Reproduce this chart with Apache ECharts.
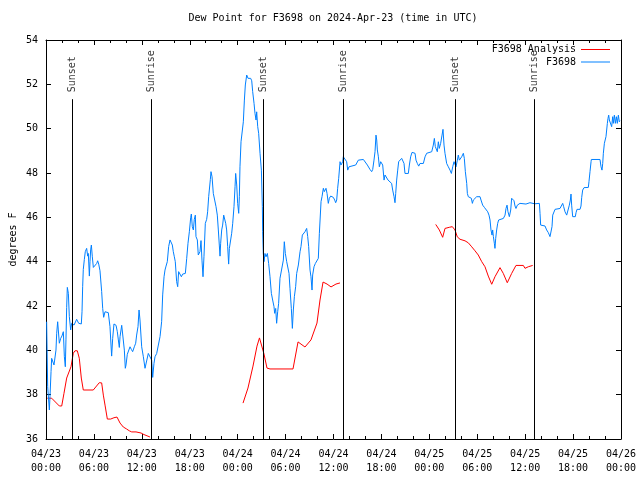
<!DOCTYPE html>
<html>
<head>
<meta charset="utf-8">
<script src="https://cdn.jsdelivr.net/npm/echarts@6/dist/echarts.min.js"></script>
<style>html,body{margin:0;padding:0;background:#fff}#c{width:640px;height:480px}</style>
</head>
<body>
<div id="c"></div>
<script>
// hours since 2024-04-23 00:00 UTC
const xTickLabels = ['04/23\n00:00','04/23\n06:00','04/23\n12:00','04/23\n18:00','04/24\n00:00','04/24\n06:00','04/24\n12:00','04/24\n18:00','04/25\n00:00','04/25\n06:00','04/25\n12:00','04/25\n18:00','04/26\n00:00'];
const sunTimes = [3.30, 13.17, 27.21, 37.23, 51.26, 61.15];
const sunLabels = ['Sunset','Sunrise','Sunset','Sunrise','Sunset','Sunrise'];
const sunLineTop = 51.33;
const sunLabelBase = 51.62;

const analysisSeg1 = [[0.16,37.84],[0.71,37.84],[1.67,37.49],[1.97,37.49],[2.25,38.06],[2.59,38.75],[2.79,38.81],[3.13,39.26],[3.42,39.87],[3.63,39.98],[3.92,39.98],[4.17,39.64],[4.42,38.75],[4.67,38.21],[5.92,38.21],[6.67,38.54],[6.97,38.53],[7.18,37.98],[7.39,37.53],[7.68,36.90],[8.10,36.90],[8.51,36.96],[8.89,36.99],[9.27,36.72],[9.68,36.54],[10.10,36.45],[10.43,36.37],[10.73,36.32],[11.27,36.32],[11.90,36.27],[12.27,36.20],[12.52,36.12],[13.02,36.09]];
const analysisSeg2 = [[24.67,37.62],[25.29,38.30],[25.92,39.29],[26.42,40.19],[26.73,40.56],[26.92,40.47],[27.30,39.83],[27.67,39.20],[28.05,39.16],[30.93,39.16],[31.56,40.38],[32.43,40.15],[33.18,40.47],[33.93,41.23],[34.31,42.27],[34.69,43.08],[35.19,42.99],[35.69,42.86],[36.31,42.99],[36.81,43.04]];
const analysisSeg3 = [[48.80,45.68],[49.25,45.43],[49.67,45.10],[49.96,45.50],[50.50,45.55],[50.88,45.58],[51.21,45.43],[51.50,45.12],[51.84,45.01],[52.47,44.94],[52.88,44.85],[53.31,44.67],[53.72,44.49],[54.13,44.30],[54.56,44.00],[54.97,43.77],[55.38,43.35],[55.81,42.98],[56.22,43.32],[56.85,43.73],[57.26,43.47],[57.76,43.05],[58.31,43.47],[58.85,43.83],[59.77,43.83],[59.98,43.70],[60.39,43.77],[60.94,43.83]];

const stationObs = [[0.08,41.29],[0.21,38.36],[0.42,37.31],[0.50,37.91],[0.63,39.04],[0.71,39.64],[0.84,39.56],[1.00,39.34],[1.13,39.26],[1.25,40.01],[1.34,40.77],[1.46,41.29],[1.54,40.92],[1.67,40.32],[1.84,40.54],[2.00,40.65],[2.17,40.84],[2.30,39.71],[2.42,39.26],[2.50,40.47],[2.59,41.94],[2.67,42.84],[2.80,42.57],[2.92,41.52],[3.09,40.92],[3.21,41.22],[3.34,41.29],[3.51,41.14],[3.67,41.22],[3.84,41.40],[3.97,41.49],[4.09,41.22],[4.26,41.19],[4.42,41.19],[4.51,41.74],[4.59,42.87],[4.67,43.65],[4.80,44.10],[4.92,44.45],[5.09,44.60],[5.22,44.25],[5.30,44.37],[5.43,43.35],[5.51,44.00],[5.59,44.53],[5.68,44.75],[5.80,44.22],[5.93,43.74],[6.18,43.74],[6.35,43.92],[6.47,44.04],[6.60,43.89],[6.76,43.59],[6.97,42.65],[7.10,41.89],[7.22,41.49],[7.39,41.74],[7.60,41.82],[7.80,41.70],[8.01,41.07],[8.14,40.24],[8.22,39.74],[8.35,40.54],[8.51,41.19],[8.77,41.13],[8.93,40.84],[9.06,40.47],[9.18,40.13],[9.27,40.62],[9.48,41.13],[9.68,41.10],[9.81,40.01],[9.93,39.19],[10.02,39.34],[10.18,39.82],[10.35,39.86],[10.52,40.16],[10.69,40.04],[10.85,39.94],[11.06,40.16],[11.23,40.32],[11.35,40.69],[11.52,41.07],[11.65,41.82],[11.77,41.37],[11.98,40.16],[12.19,39.71],[12.40,39.19],[12.61,39.23],[12.81,39.86],[13.02,39.83],[13.23,39.56],[13.36,38.78],[13.52,39.41],[13.65,39.71],[13.86,39.86],[14.07,40.24],[14.28,40.62],[14.48,41.29],[14.61,42.50],[14.78,43.32],[14.90,43.62],[15.03,43.80],[15.19,44.00],[15.36,44.68],[15.53,44.98],[15.69,45.02],[15.82,44.75],[15.94,44.45],[16.07,44.22],[16.19,44.00],[16.36,43.10],[16.49,42.87],[16.61,43.55],[16.78,43.47],[16.95,43.32],[17.11,43.44],[17.28,43.50],[17.45,43.47],[17.62,44.15],[17.78,44.83],[17.95,45.35],[18.12,46.00],[18.20,46.15],[18.32,45.58],[18.45,45.43],[18.57,45.91],[18.70,46.10],[18.78,45.13],[18.95,44.98],[19.07,44.30],[19.20,44.22],[19.28,44.45],[19.41,44.95],[19.53,44.07],[19.66,43.32],[19.78,44.22],[19.95,45.73],[20.12,45.91],[20.24,46.25],[20.37,46.93],[20.45,47.23],[20.58,47.71],[20.66,48.06],[20.79,47.83],[20.95,47.08],[21.12,46.78],[21.29,46.48],[21.45,46.10],[21.58,45.43],[21.70,44.75],[21.79,44.25],[21.87,44.83],[22.00,45.43],[22.12,45.65],[22.25,46.10],[22.37,46.03],[22.50,45.73],[22.62,45.43],[22.75,44.68],[22.87,43.89],[22.96,44.60],[23.25,45.28],[23.38,45.73],[23.54,46.48],[23.67,47.38],[23.75,47.98],[23.88,47.46],[24.00,46.63],[24.13,46.18],[24.21,46.93],[24.29,48.28],[24.42,49.41],[24.54,49.41],[24.71,50.31],[24.84,51.29],[24.96,51.97],[25.13,52.42],[25.30,52.27],[25.46,52.19],[25.63,52.27],[25.76,52.16],[25.88,51.67],[26.05,51.14],[26.17,50.69],[26.30,50.39],[26.38,50.76],[26.51,50.09],[26.63,49.79],[26.80,48.89],[26.97,48.13],[27.09,46.48],[27.13,45.35],[27.21,44.37],[27.30,44.00],[27.42,44.37],[27.55,44.22],[27.72,44.37],[27.88,43.92],[28.05,43.32],[28.22,42.57],[28.38,42.27],[28.55,41.97],[28.63,41.67],[28.76,41.89],[28.88,41.22],[29.01,41.74],[29.13,42.12],[29.30,43.25],[29.51,43.32],[29.72,44.07],[29.84,44.90],[29.97,44.37],[30.14,44.00],[30.26,44.07],[30.43,43.47],[30.55,42.80],[30.72,41.89],[30.85,40.99],[30.97,41.82],[31.10,42.42],[31.26,42.87],[31.39,43.47],[31.60,43.85],[31.81,44.45],[31.93,44.68],[32.10,45.20],[32.22,45.28],[32.43,45.35],[32.64,45.50],[32.77,45.13],[32.89,44.68],[33.06,43.62],[33.18,43.32],[33.31,42.72],[33.39,43.40],[33.56,43.77],[33.73,43.92],[33.89,43.92],[34.10,44.15],[34.23,45.28],[34.44,46.71],[34.56,46.93],[34.73,47.31],[34.85,47.16],[34.98,47.23],[35.06,47.31],[35.19,47.08],[35.35,46.63],[35.48,46.86],[35.65,46.96],[35.81,47.01],[35.98,46.90],[36.15,46.78],[36.27,46.66],[36.40,46.78],[36.52,47.31],[36.65,47.76],[36.82,48.51],[36.94,48.36],[37.07,48.28],[37.15,48.51],[37.23,48.73],[37.48,48.77],[37.65,48.51],[37.78,48.13],[37.94,48.28],[38.07,48.36],[38.78,48.36],[39.11,48.58],[39.74,48.61],[39.95,48.58],[40.24,48.36],[40.57,48.16],[40.78,48.06],[40.91,48.16],[41.07,48.58],[41.20,48.96],[41.32,49.71],[41.41,49.49],[41.49,49.04],[41.62,48.73],[41.74,48.28],[41.91,48.51],[42.03,48.58],[42.16,48.36],[42.33,47.68],[42.45,47.91],[42.58,47.83],[42.70,47.98],[42.83,47.68],[43.08,47.61],[43.28,47.53],[43.41,47.23],[43.58,46.93],[43.70,46.66],[43.79,47.08],[43.91,47.68],[44.04,48.13],[44.16,48.51],[44.54,48.66],[44.83,48.43],[44.95,47.98],[45.37,47.98],[45.50,48.36],[45.66,48.73],[45.83,48.93],[46.21,48.89],[46.33,48.58],[46.50,48.43],[46.67,48.31],[46.83,48.43],[47.04,48.51],[47.25,48.43],[47.46,48.73],[47.67,48.89],[47.88,48.96],[48.30,48.96],[48.50,49.26],[48.63,49.56],[48.75,49.19],[48.92,49.26],[49.00,48.96],[49.13,49.41],[49.25,49.11],[49.42,49.34],[49.59,49.71],[49.71,49.97],[49.84,49.26],[49.96,48.89],[50.09,48.81],[50.17,48.43],[50.38,48.28],[50.59,48.13],[50.76,47.98],[50.93,48.28],[51.09,48.51],[51.22,48.51],[51.34,48.28],[51.51,48.58],[51.63,48.81],[51.76,48.58],[51.88,48.51],[52.05,48.73],[52.26,48.89],[52.38,48.66],[52.51,48.06],[52.68,47.53],[52.76,47.08],[52.88,46.93],[53.09,46.93],[53.26,46.86],[53.39,46.63],[53.51,46.78],[53.93,46.93],[54.35,46.93],[54.47,46.78],[54.68,46.55],[54.89,46.45],[55.10,46.36],[55.31,46.25],[55.47,46.10],[55.60,45.88],[55.72,45.43],[55.85,45.20],[55.93,45.43],[56.02,45.13],[56.14,44.83],[56.22,44.60],[56.31,45.05],[56.43,45.43],[56.56,45.73],[56.68,45.88],[56.85,45.95],[57.27,45.95],[57.48,46.10],[57.60,46.40],[57.73,46.55],[57.85,46.25],[58.02,46.03],[58.19,46.33],[58.31,46.86],[58.60,46.75],[58.73,46.51],[58.85,46.40],[59.02,46.55],[59.19,46.63],[59.35,46.63],[60.10,46.60],[60.60,46.66],[61.20,46.61],[61.78,46.63],[61.86,46.18],[61.94,45.65],[62.48,45.61],[62.69,45.43],[62.90,45.31],[63.11,45.13],[63.28,45.05],[63.36,45.58],[63.45,46.10],[63.74,46.36],[64.36,46.40],[64.57,46.48],[64.70,46.63],[64.82,46.48],[64.99,46.25],[65.20,46.10],[65.32,46.03],[65.45,46.18],[65.53,46.55],[65.66,46.78],[65.74,47.05],[65.82,46.55],[65.95,46.03],[66.28,46.03],[66.37,46.21],[66.49,46.36],[66.87,46.36],[66.99,46.51],[67.08,46.90],[67.20,47.23],[67.37,47.34],[67.91,47.35],[67.99,47.61],[68.12,48.06],[68.25,48.51],[68.29,48.61],[69.37,48.61],[69.50,48.28],[69.62,48.13],[69.71,48.43],[69.79,48.89],[69.92,49.34],[70.04,49.34],[70.12,49.64],[70.29,50.24],[70.37,50.46],[70.46,50.61],[70.54,50.39],[70.71,50.31],[70.83,50.09],[70.96,50.54],[71.04,50.24],[71.17,50.61],[71.29,50.24],[71.42,50.54],[71.54,50.24],[71.67,50.61],[71.79,50.31],[71.87,50.36]];

const FONT = 'DejaVu Sans Mono';
const RED = '#ff0000';
const BLUE = '#0080ff';

const chart = echarts.init(document.getElementById('c'), null, {renderer: 'canvas'});

function xAx(pos, showLabel) {
  return {
    type: 'value', position: pos, min: 0, max: 72, interval: 6,
    axisLine: {show: true, onZero: false, lineStyle: {color: '#000', width: 1}},
    axisTick: {show: true, inside: true, length: 5, lineStyle: {color: '#000'}},
    minorTick: {show: true, splitNumber: 3, length: 3, lineStyle: {color: '#000'}},
    splitLine: {show: false}, minorSplitLine: {show: false},
    axisLabel: {
      show: showLabel, margin: 8, color: '#000', fontFamily: FONT, fontSize: 10, lineHeight: 14,
      showMinLabel: true, showMaxLabel: true, hideOverlap: false,
      formatter: v => xTickLabels[Math.round(v / 6)]
    }
  };
}
function yAx(pos, showLabel) {
  return {
    type: 'value', position: pos, min: 36, max: 54, interval: 2,
    axisLine: {show: true, onZero: false, lineStyle: {color: '#000', width: 1}},
    axisTick: {show: true, inside: true, length: 5, lineStyle: {color: '#000'}},
    splitLine: {show: false},
    axisLabel: {show: showLabel, margin: 8, color: '#000', fontFamily: FONT, fontSize: 10,
      showMinLabel: true, showMaxLabel: true},
    name: showLabel ? 'degrees F' : '',
    nameLocation: 'middle', nameGap: 28, nameMoveOverlap: false,
    nameTextStyle: {color: '#000', fontFamily: FONT, fontSize: 10}
  };
}

const lineBase = {type: 'line', symbol: 'none', showSymbol: false, connectNulls: false,
  animation: false, silent: true, xAxisIndex: 0, yAxisIndex: 0};

const legendBase = {right: 30, align: 'right', padding: 0, itemWidth: 29, itemHeight: 1,
  icon: 'rect', selectedMode: false,
  textStyle: {color: '#000', fontFamily: FONT, fontSize: 10}};

chart.setOption({
  animation: false,
  backgroundColor: '#fff',
  title: {
    text: 'Dew Point for F3698 on 2024-Apr-23 (time in UTC)',
    left: 333, textAlign: 'center', top: 13, padding: 0,
    textStyle: {color: '#000', fontFamily: FONT, fontSize: 10, fontWeight: 'normal'}
  },
  grid: {left: 46, right: 19, top: 40, bottom: 41, containLabel: false, outerBoundsMode: 'none'},
  legend: [
    Object.assign({}, legendBase, {data: ['F3698 Analysis'], top: 44.5}),
    Object.assign({}, legendBase, {data: ['F3698'], top: 57})
  ],
  xAxis: [xAx('bottom', true), xAx('top', false)],
  yAxis: [yAx('left', true), yAx('right', false)],
  series: [
    Object.assign({}, lineBase, {name: 'F3698 Analysis', data: analysisSeg1, lineStyle: {color: RED, width: 1}, itemStyle: {color: RED}}),
    Object.assign({}, lineBase, {name: 'F3698 Analysis', data: analysisSeg2, lineStyle: {color: RED, width: 1}, itemStyle: {color: RED}}),
    Object.assign({}, lineBase, {name: 'F3698 Analysis', data: analysisSeg3, lineStyle: {color: RED, width: 1}, itemStyle: {color: RED}}),
    Object.assign({}, lineBase, {name: 'F3698', data: stationObs, lineStyle: {color: BLUE, width: 1}, itemStyle: {color: BLUE}}),
    {
      type: 'scatter', name: 'sun', silent: true, animation: false,
      symbol: 'circle', symbolSize: 1, itemStyle: {color: 'rgba(0,0,0,0)'},
      data: sunTimes.map(t => [t, sunLabelBase]),
      label: {show: true, position: [1, 0], rotate: 90, align: 'left', verticalAlign: 'middle',
        color: '#000', fontFamily: FONT, fontSize: 10,
        formatter: p => sunLabels[p.dataIndex]},
      markLine: {
        silent: true, animation: false, symbol: ['none', 'none'],
        label: {show: false},
        lineStyle: {color: '#000', width: 1, type: 'solid'},
        emphasis: {disabled: true},
        data: sunTimes.map(t => [{coord: [t, 36]}, {coord: [t, sunLineTop]}])
      }
    }
  ]
});
</script>
</body>
</html>
